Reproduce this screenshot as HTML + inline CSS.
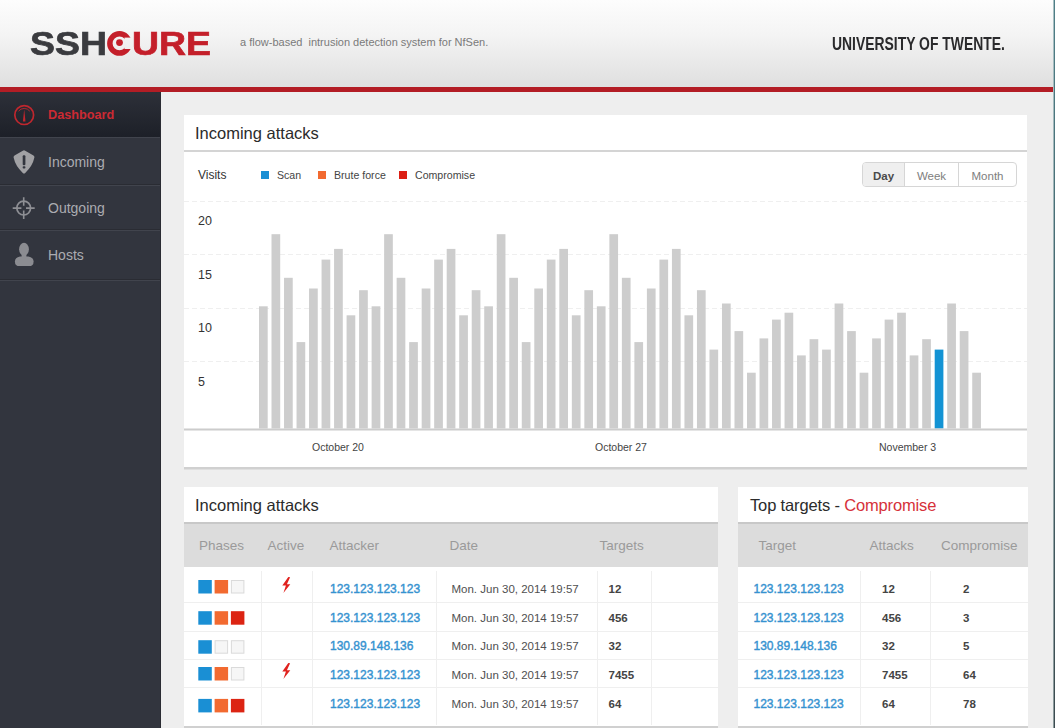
<!DOCTYPE html>
<html><head><meta charset="utf-8"><title>SSHCure Dashboard</title>
<style>
*{box-sizing:border-box}
html,body{margin:0;padding:0}
body{width:1055px;height:728px;overflow:hidden;position:relative;background:#eeeeee;font-family:'Liberation Sans', Arial, sans-serif;color:#333}
.abs{position:absolute}
#hdr{left:0;top:0;width:1055px;height:87px;background:linear-gradient(#fdfdfd 0%,#f4f4f4 40%,#dfdfdf 100%)}
#red{left:0;top:87px;width:1055px;height:5px;background:#b31d25}
#edge{left:1053px;top:0;width:1px;height:728px;background:linear-gradient(#a9c0c4,#8c9a9c)}
#edge2{left:1054px;top:0;width:1px;height:728px;background:linear-gradient(#4f7f87,#3c4b4f)}
.logo{font-size:34px;font-weight:bold;line-height:34px;white-space:nowrap;transform-origin:0 0;transform:scaleX(1.1);-webkit-text-stroke:0.7px currentColor}
.logo.d{color:#3a3b3f}.logo.r{color:#c41f2a}
.tag{left:240px;top:36px;font-size:11px;color:#7a7a7a;white-space:nowrap;line-height:12px}
.ut{left:832px;top:34px;font-size:17.5px;font-weight:bold;color:#2a2a2c;white-space:nowrap;line-height:20px;transform-origin:0 0;transform:scaleX(0.795)}
#side{left:0;top:92px;width:161px;height:636px;background:#32353e}
.nlbl{font-size:14px;line-height:20px;color:#abacb1;white-space:nowrap}
.nlbl.act{color:#cc2a33;font-weight:bold;font-size:12.7px}
.panel{position:absolute;background:#fff}
.ptitle{position:absolute;left:11px;font-size:16.5px;color:#2b2b2b;white-space:nowrap}
</style></head>
<body>
<div id="hdr" class="abs">
  <div class="abs logo d" style="left:30px;top:26px">SSH</div>
  <div class="abs logo r" style="left:132px;top:26px">URE</div>
  <svg class="abs" style="left:105px;top:29px" width="28" height="28" viewBox="0 0 28 28">
    <defs><mask id="cm" maskUnits="userSpaceOnUse" x="0" y="0" width="28" height="28"><rect width="28" height="28" fill="#fff"/><rect x="19.5" y="8.6" width="9" height="11.4" fill="#000"/></mask></defs>
    <circle cx="14.5" cy="14.4" r="9.65" fill="none" stroke="#c41f2a" stroke-width="5.5" mask="url(#cm)"/>
    <circle cx="14.5" cy="13.6" r="3.4" fill="#c41f2a"/>
  </svg>
  <div class="abs tag">a flow-based&nbsp; intrusion detection system for NfSen.</div>
  <div class="abs ut">UNIVERSITY OF TWENTE.</div>
</div>
<div id="red" class="abs"></div>

<div id="side" class="abs"></div>
<div class="abs" style="left:0;top:92px;width:161px;height:45px;background:linear-gradient(#2d3039,#1d2028)"></div>
<div class="abs" style="left:0;top:137px;width:161px;height:1px;background:#41444d"></div>
<div class="abs" style="left:0;top:184px;width:161px;height:1px;background:#2a2c33"></div>
<div class="abs" style="left:0;top:185px;width:161px;height:1px;background:#41444d"></div>
<div class="abs" style="left:0;top:229px;width:161px;height:1px;background:#2a2c33"></div>
<div class="abs" style="left:0;top:230px;width:161px;height:1px;background:#41444d"></div>
<div class="abs" style="left:0;top:279px;width:161px;height:1px;background:#2a2c33"></div>
<div class="abs" style="left:0;top:280px;width:161px;height:1px;background:#41444d"></div>
<div class="abs" style="left:160px;top:92px;width:1px;height:636px;background:#2a2b32"></div>
<svg class="abs" style="left:0;top:0" width="48" height="300" viewBox="0 0 48 300">
  <circle cx="24.2" cy="115.1" r="9.4" fill="none" stroke="#c0272e" stroke-width="1.7"/>
  <path d="M18.6 111.2 A7 7 0 0 1 29.8 111.2" fill="none" stroke="#c0272e" stroke-width="0.9"/>
  <path d="M24.2 109.2 L25.5 121.5 L22.9 121.5 Z" fill="#c0272e"/>
  <path d="M24 150.3 Q24.6 150.3 25.2 150.7 L33.5 155.4 Q34.7 156.2 34.4 157.6 Q32.6 166.2 25.2 172.9 Q24 174 22.8 172.9 Q15.4 166.2 13.6 157.6 Q13.3 156.2 14.5 155.4 L22.8 150.7 Q23.4 150.3 24 150.3 Z" fill="#a1a1a4"/>
  <rect x="22.7" y="155.2" width="2.7" height="10.1" rx="1" fill="#32353e"/>
  <rect x="22.7" y="166.3" width="2.7" height="2.2" rx="0.8" fill="#32353e"/>
  <circle cx="23.7" cy="208.1" r="6.9" fill="none" stroke="#8e8f94" stroke-width="1.7"/>
  <path d="M12.7 208.1 H21.4 M26.0 208.1 H34.7 M23.7 197.3 V205.8 M23.7 210.4 V219.1" stroke="#8e8f94" stroke-width="1.6"/>
  <ellipse cx="24" cy="249.2" rx="4.9" ry="6.4" fill="#8b8c91"/>
  <rect x="21.6" y="253" width="4.8" height="5" fill="#8b8c91"/>
  <path d="M20 256.4 Q14.9 257.3 14.9 261.4 Q14.9 266.1 19.5 266.1 L29 266.1 Q33.6 266.1 33.6 261.4 Q33.6 257.3 28.4 256.4 Z" fill="#8b8c91"/>
</svg>
<div class="abs nlbl act" style="left:48px;top:105px">Dashboard</div>
<div class="abs nlbl" style="left:48px;top:152px">Incoming</div>
<div class="abs nlbl" style="left:48px;top:198px">Outgoing</div>
<div class="abs nlbl" style="left:48px;top:245px">Hosts</div>

<!-- chart panel -->
<div class="panel" style="left:184px;top:115px;width:843px;height:353px">
  <div class="ptitle" style="top:6px;line-height:24px">Incoming attacks</div>
</div>
<svg class="abs" style="left:0;top:0" width="1055" height="728" viewBox="0 0 1055 728">
  <rect x="184" y="150" width="843" height="2" fill="#d4d4d4"/>
  <g stroke="#efefef" stroke-width="1" stroke-dasharray="5 3">
    <line x1="184" y1="201.5" x2="1027" y2="201.5"/>
    <line x1="184" y1="254.5" x2="1027" y2="254.5"/>
    <line x1="184" y1="308.5" x2="1027" y2="308.5"/>
    <line x1="184" y1="361.5" x2="1027" y2="361.5"/>
  </g>
<rect x="259.00" y="306.3" width="8.7" height="122.2" fill="#cdcdcd"/>
<rect x="271.51" y="234.2" width="8.7" height="194.3" fill="#cdcdcd"/>
<rect x="284.03" y="277.8" width="8.7" height="150.7" fill="#cdcdcd"/>
<rect x="296.54" y="342.1" width="8.7" height="86.4" fill="#cdcdcd"/>
<rect x="309.05" y="288.5" width="8.7" height="140.0" fill="#cdcdcd"/>
<rect x="321.56" y="259.6" width="8.7" height="168.9" fill="#cdcdcd"/>
<rect x="334.08" y="248.9" width="8.7" height="179.6" fill="#cdcdcd"/>
<rect x="346.59" y="315.3" width="8.7" height="113.2" fill="#cdcdcd"/>
<rect x="359.10" y="290.2" width="8.7" height="138.3" fill="#cdcdcd"/>
<rect x="371.62" y="306.3" width="8.7" height="122.2" fill="#cdcdcd"/>
<rect x="384.13" y="234.2" width="8.7" height="194.3" fill="#cdcdcd"/>
<rect x="396.64" y="277.8" width="8.7" height="150.7" fill="#cdcdcd"/>
<rect x="409.16" y="342.1" width="8.7" height="86.4" fill="#cdcdcd"/>
<rect x="421.67" y="288.5" width="8.7" height="140.0" fill="#cdcdcd"/>
<rect x="434.18" y="259.6" width="8.7" height="168.9" fill="#cdcdcd"/>
<rect x="446.69" y="248.9" width="8.7" height="179.6" fill="#cdcdcd"/>
<rect x="459.21" y="315.3" width="8.7" height="113.2" fill="#cdcdcd"/>
<rect x="471.72" y="290.2" width="8.7" height="138.3" fill="#cdcdcd"/>
<rect x="484.23" y="306.3" width="8.7" height="122.2" fill="#cdcdcd"/>
<rect x="496.75" y="234.2" width="8.7" height="194.3" fill="#cdcdcd"/>
<rect x="509.26" y="277.8" width="8.7" height="150.7" fill="#cdcdcd"/>
<rect x="521.77" y="342.1" width="8.7" height="86.4" fill="#cdcdcd"/>
<rect x="534.29" y="288.5" width="8.7" height="140.0" fill="#cdcdcd"/>
<rect x="546.80" y="259.6" width="8.7" height="168.9" fill="#cdcdcd"/>
<rect x="559.31" y="248.9" width="8.7" height="179.6" fill="#cdcdcd"/>
<rect x="571.83" y="315.3" width="8.7" height="113.2" fill="#cdcdcd"/>
<rect x="584.34" y="290.2" width="8.7" height="138.3" fill="#cdcdcd"/>
<rect x="596.85" y="306.3" width="8.7" height="122.2" fill="#cdcdcd"/>
<rect x="609.36" y="234.2" width="8.7" height="194.3" fill="#cdcdcd"/>
<rect x="621.88" y="277.8" width="8.7" height="150.7" fill="#cdcdcd"/>
<rect x="634.39" y="342.1" width="8.7" height="86.4" fill="#cdcdcd"/>
<rect x="646.90" y="288.5" width="8.7" height="140.0" fill="#cdcdcd"/>
<rect x="659.42" y="259.6" width="8.7" height="168.9" fill="#cdcdcd"/>
<rect x="671.93" y="248.9" width="8.7" height="179.6" fill="#cdcdcd"/>
<rect x="684.44" y="315.3" width="8.7" height="113.2" fill="#cdcdcd"/>
<rect x="696.95" y="290.2" width="8.7" height="138.3" fill="#cdcdcd"/>
<rect x="709.47" y="349.6" width="8.7" height="78.9" fill="#cdcdcd"/>
<rect x="721.98" y="303.5" width="8.7" height="125.0" fill="#cdcdcd"/>
<rect x="734.49" y="331.1" width="8.7" height="97.4" fill="#cdcdcd"/>
<rect x="747.01" y="372.7" width="8.7" height="55.8" fill="#cdcdcd"/>
<rect x="759.52" y="338.4" width="8.7" height="90.1" fill="#cdcdcd"/>
<rect x="772.03" y="319.6" width="8.7" height="108.9" fill="#cdcdcd"/>
<rect x="784.55" y="312.7" width="8.7" height="115.8" fill="#cdcdcd"/>
<rect x="797.06" y="355.4" width="8.7" height="73.1" fill="#cdcdcd"/>
<rect x="809.57" y="339.2" width="8.7" height="89.3" fill="#cdcdcd"/>
<rect x="822.09" y="349.6" width="8.7" height="78.9" fill="#cdcdcd"/>
<rect x="834.60" y="303.5" width="8.7" height="125.0" fill="#cdcdcd"/>
<rect x="847.11" y="331.1" width="8.7" height="97.4" fill="#cdcdcd"/>
<rect x="859.62" y="372.7" width="8.7" height="55.8" fill="#cdcdcd"/>
<rect x="872.14" y="338.4" width="8.7" height="90.1" fill="#cdcdcd"/>
<rect x="884.65" y="319.6" width="8.7" height="108.9" fill="#cdcdcd"/>
<rect x="897.16" y="312.7" width="8.7" height="115.8" fill="#cdcdcd"/>
<rect x="909.68" y="355.4" width="8.7" height="73.1" fill="#cdcdcd"/>
<rect x="922.19" y="339.2" width="8.7" height="89.3" fill="#cdcdcd"/>
<rect x="934.70" y="349.6" width="8.7" height="78.9" fill="#1393d4"/>
<rect x="947.22" y="303.5" width="8.7" height="125.0" fill="#cdcdcd"/>
<rect x="959.73" y="331.1" width="8.7" height="97.4" fill="#cdcdcd"/>
<rect x="972.24" y="372.7" width="8.7" height="55.8" fill="#cdcdcd"/>
  <rect x="184" y="428.5" width="843" height="2" fill="#cccccc"/>
  <rect x="184" y="467" width="843" height="2.5" fill="#d0d0d0"/>
</svg>
<div class="abs" style="left:198px;top:168px;font-size:12px;color:#333;line-height:14px">Visits</div>
<div class="abs" style="left:261px;top:171px;width:8px;height:8px;background:#1a8fd4"></div>
<div class="abs" style="left:277px;top:169px;font-size:10.6px;color:#444;line-height:12px">Scan</div>
<div class="abs" style="left:318px;top:171px;width:8px;height:8px;background:#f26a30"></div>
<div class="abs" style="left:334px;top:169px;font-size:10.6px;color:#444;line-height:12px">Brute force</div>
<div class="abs" style="left:399px;top:171px;width:8px;height:8px;background:#dc1f14"></div>
<div class="abs" style="left:415px;top:169px;font-size:10.6px;color:#444;line-height:12px">Compromise</div>

<div class="abs" style="left:862px;top:162px;width:155px;height:25px;border:1px solid #d6d6d6;border-radius:4px;overflow:hidden;font-size:11.5px;line-height:26px;text-align:center">
  <div class="abs" style="left:0;top:0;width:42px;height:23px;background:#efefef;border-right:1px solid #d6d6d6;color:#4a4a4a;font-weight:bold">Day</div>
  <div class="abs" style="left:42px;top:0;width:54px;height:23px;border-right:1px solid #d6d6d6;color:#7e7e7e">Week</div>
  <div class="abs" style="left:96px;top:0;width:57px;height:23px;color:#7e7e7e">Month</div>
</div>

<div class="abs" style="left:198px;top:214px;font-size:12.5px;color:#333;line-height:14px">20</div>
<div class="abs" style="left:198px;top:268px;font-size:12.5px;color:#333;line-height:14px">15</div>
<div class="abs" style="left:198px;top:321px;font-size:12.5px;color:#333;line-height:14px">10</div>
<div class="abs" style="left:198px;top:375px;font-size:12.5px;color:#333;line-height:14px">5</div>

<div class="abs" style="left:312px;top:441px;font-size:10.5px;color:#444;line-height:13px">October 20</div>
<div class="abs" style="left:595px;top:441px;font-size:10.5px;color:#444;line-height:13px">October 27</div>
<div class="abs" style="left:879px;top:441px;font-size:10.5px;color:#444;line-height:13px">November 3</div>

<div class="panel" style="left:184px;top:487px;width:534px;height:241px"></div>
<div class="panel" style="left:738px;top:487px;width:290px;height:241px"></div>
<div class="abs ptitle" style="left:195px;top:493px;line-height:24px">Incoming attacks</div>
<div class="abs ptitle" style="left:750px;top:493px;line-height:24px;letter-spacing:-0.15px">Top targets - <span style="color:#d6313a">Compromise</span></div>
<div class="abs" style="left:184px;top:522px;width:534px;height:44.5px;background:#dcdcdc;border-top:2px solid #c8c8c8"></div>
<div class="abs" style="left:738px;top:522px;width:290px;height:44.5px;background:#dcdcdc;border-top:2px solid #c8c8c8"></div>
<div class="abs" style="left:199px;top:537.5px;line-height:16px;font-size:13.5px;color:#9a9a9a;font-weight:normal;white-space:nowrap">Phases</div>
<div class="abs" style="left:267.5px;top:537.5px;line-height:16px;font-size:13.5px;color:#9a9a9a;font-weight:normal;white-space:nowrap">Active</div>
<div class="abs" style="left:329.5px;top:537.5px;line-height:16px;font-size:13.5px;color:#9a9a9a;font-weight:normal;white-space:nowrap">Attacker</div>
<div class="abs" style="left:449.5px;top:537.5px;line-height:16px;font-size:13.5px;color:#9a9a9a;font-weight:normal;white-space:nowrap">Date</div>
<div class="abs" style="left:599.5px;top:537.5px;line-height:16px;font-size:13.5px;color:#9a9a9a;font-weight:normal;white-space:nowrap">Targets</div>
<div class="abs" style="left:758.5px;top:537.5px;line-height:16px;font-size:13.5px;color:#9a9a9a;font-weight:normal;white-space:nowrap">Target</div>
<div class="abs" style="left:869.5px;top:537.5px;line-height:16px;font-size:13.5px;color:#9a9a9a;font-weight:normal;white-space:nowrap">Attacks</div>
<div class="abs" style="left:941px;top:537.5px;line-height:16px;font-size:13.5px;color:#9a9a9a;font-weight:normal;white-space:nowrap">Compromise</div>
<svg class="abs" style="left:0;top:0" width="1055" height="728" viewBox="0 0 1055 728">
<line x1="184" y1="602.5" x2="718" y2="602.5" stroke="#efefef" stroke-width="1"/>
<line x1="738" y1="602.5" x2="1028" y2="602.5" stroke="#efefef" stroke-width="1"/>
<line x1="184" y1="631.5" x2="718" y2="631.5" stroke="#efefef" stroke-width="1"/>
<line x1="738" y1="631.5" x2="1028" y2="631.5" stroke="#efefef" stroke-width="1"/>
<line x1="184" y1="659.5" x2="718" y2="659.5" stroke="#efefef" stroke-width="1"/>
<line x1="738" y1="659.5" x2="1028" y2="659.5" stroke="#efefef" stroke-width="1"/>
<line x1="184" y1="687.5" x2="718" y2="687.5" stroke="#efefef" stroke-width="1"/>
<line x1="738" y1="687.5" x2="1028" y2="687.5" stroke="#efefef" stroke-width="1"/>
<line x1="261.5" y1="571" x2="261.5" y2="725" stroke="#efefef" stroke-width="1"/>
<line x1="312.5" y1="571" x2="312.5" y2="725" stroke="#efefef" stroke-width="1"/>
<line x1="436.5" y1="571" x2="436.5" y2="725" stroke="#efefef" stroke-width="1"/>
<line x1="597.5" y1="571" x2="597.5" y2="725" stroke="#efefef" stroke-width="1"/>
<line x1="651.5" y1="571" x2="651.5" y2="725" stroke="#efefef" stroke-width="1"/>
<line x1="860.5" y1="571" x2="860.5" y2="725" stroke="#efefef" stroke-width="1"/>
<line x1="930.5" y1="571" x2="930.5" y2="725" stroke="#efefef" stroke-width="1"/>
<rect x="184" y="726" width="534" height="2" fill="#d0d0d0"/>
<rect x="738" y="726" width="290" height="2" fill="#d0d0d0"/>
<path transform="translate(0,0.0)" d="M288.3 576.9 L282.3 585.6 L285.9 585.6 L283.4 592.9 L290.3 584.3 L286.9 584.3 L290.1 577.3 Z" fill="#e0221e"/>
<path transform="translate(0,86.0)" d="M288.3 576.9 L282.3 585.6 L285.9 585.6 L283.4 592.9 L290.3 584.3 L286.9 584.3 L290.1 577.3 Z" fill="#e0221e"/>
<rect x="198.3" y="580.0" width="13.5" height="13.5" fill="#1a8fd4"/>
<rect x="214.6" y="580.0" width="13.5" height="13.5" fill="#f26a30"/>
<rect x="231.4" y="580.5" width="12.5" height="12.5" fill="#f6f6f6" stroke="#dadada" stroke-width="1"/>
<rect x="198.3" y="611.2" width="13.5" height="13.5" fill="#1a8fd4"/>
<rect x="214.6" y="611.2" width="13.5" height="13.5" fill="#f26a30"/>
<rect x="230.9" y="611.2" width="13.5" height="13.5" fill="#dc2413"/>
<rect x="198.3" y="640.2" width="13.5" height="13.5" fill="#1a8fd4"/>
<rect x="215.1" y="640.7" width="12.5" height="12.5" fill="#f6f6f6" stroke="#dadada" stroke-width="1"/>
<rect x="231.4" y="640.7" width="12.5" height="12.5" fill="#f6f6f6" stroke="#dadada" stroke-width="1"/>
<rect x="198.3" y="667.0" width="13.5" height="13.5" fill="#1a8fd4"/>
<rect x="214.6" y="667.0" width="13.5" height="13.5" fill="#f26a30"/>
<rect x="231.4" y="667.5" width="12.5" height="12.5" fill="#f6f6f6" stroke="#dadada" stroke-width="1"/>
<rect x="198.3" y="698.9" width="13.5" height="13.5" fill="#1a8fd4"/>
<rect x="214.6" y="698.9" width="13.5" height="13.5" fill="#f26a30"/>
<rect x="230.9" y="698.9" width="13.5" height="13.5" fill="#dc2413"/>
</svg>
<div class="abs" style="left:330px;top:581.0px;line-height:16px;font-size:12px;color:#3592d0;font-weight:normal;white-space:nowrap;-webkit-text-stroke:0.4px #3592d0">123.123.123.123</div>
<div class="abs" style="left:451.5px;top:581.0px;line-height:16px;font-size:11.5px;color:#505050;font-weight:normal;white-space:nowrap">Mon. Jun 30, 2014 19:57</div>
<div class="abs" style="left:608.5px;top:581.0px;line-height:16px;font-size:11.5px;color:#444;font-weight:bold;white-space:nowrap">12</div>
<div class="abs" style="left:753.5px;top:581.0px;line-height:16px;font-size:12px;color:#3592d0;font-weight:normal;white-space:nowrap;-webkit-text-stroke:0.4px #3592d0">123.123.123.123</div>
<div class="abs" style="left:882px;top:581.0px;line-height:16px;font-size:11.5px;color:#444;font-weight:bold;white-space:nowrap">12</div>
<div class="abs" style="left:963px;top:581.0px;line-height:16px;font-size:11.5px;color:#444;font-weight:bold;white-space:nowrap">2</div>
<div class="abs" style="left:330px;top:609.7px;line-height:16px;font-size:12px;color:#3592d0;font-weight:normal;white-space:nowrap;-webkit-text-stroke:0.4px #3592d0">123.123.123.123</div>
<div class="abs" style="left:451.5px;top:609.7px;line-height:16px;font-size:11.5px;color:#505050;font-weight:normal;white-space:nowrap">Mon. Jun 30, 2014 19:57</div>
<div class="abs" style="left:608.5px;top:609.7px;line-height:16px;font-size:11.5px;color:#444;font-weight:bold;white-space:nowrap">456</div>
<div class="abs" style="left:753.5px;top:609.7px;line-height:16px;font-size:12px;color:#3592d0;font-weight:normal;white-space:nowrap;-webkit-text-stroke:0.4px #3592d0">123.123.123.123</div>
<div class="abs" style="left:882px;top:609.7px;line-height:16px;font-size:11.5px;color:#444;font-weight:bold;white-space:nowrap">456</div>
<div class="abs" style="left:963px;top:609.7px;line-height:16px;font-size:11.5px;color:#444;font-weight:bold;white-space:nowrap">3</div>
<div class="abs" style="left:330px;top:638.4px;line-height:16px;font-size:12px;color:#3592d0;font-weight:normal;white-space:nowrap;-webkit-text-stroke:0.4px #3592d0">130.89.148.136</div>
<div class="abs" style="left:451.5px;top:638.4px;line-height:16px;font-size:11.5px;color:#505050;font-weight:normal;white-space:nowrap">Mon. Jun 30, 2014 19:57</div>
<div class="abs" style="left:608.5px;top:638.4px;line-height:16px;font-size:11.5px;color:#444;font-weight:bold;white-space:nowrap">32</div>
<div class="abs" style="left:753.5px;top:638.4px;line-height:16px;font-size:12px;color:#3592d0;font-weight:normal;white-space:nowrap;-webkit-text-stroke:0.4px #3592d0">130.89.148.136</div>
<div class="abs" style="left:882px;top:638.4px;line-height:16px;font-size:11.5px;color:#444;font-weight:bold;white-space:nowrap">32</div>
<div class="abs" style="left:963px;top:638.4px;line-height:16px;font-size:11.5px;color:#444;font-weight:bold;white-space:nowrap">5</div>
<div class="abs" style="left:330px;top:667.0px;line-height:16px;font-size:12px;color:#3592d0;font-weight:normal;white-space:nowrap;-webkit-text-stroke:0.4px #3592d0">123.123.123.123</div>
<div class="abs" style="left:451.5px;top:667.0px;line-height:16px;font-size:11.5px;color:#505050;font-weight:normal;white-space:nowrap">Mon. Jun 30, 2014 19:57</div>
<div class="abs" style="left:608.5px;top:667.0px;line-height:16px;font-size:11.5px;color:#444;font-weight:bold;white-space:nowrap">7455</div>
<div class="abs" style="left:753.5px;top:667.0px;line-height:16px;font-size:12px;color:#3592d0;font-weight:normal;white-space:nowrap;-webkit-text-stroke:0.4px #3592d0">123.123.123.123</div>
<div class="abs" style="left:882px;top:667.0px;line-height:16px;font-size:11.5px;color:#444;font-weight:bold;white-space:nowrap">7455</div>
<div class="abs" style="left:963px;top:667.0px;line-height:16px;font-size:11.5px;color:#444;font-weight:bold;white-space:nowrap">64</div>
<div class="abs" style="left:330px;top:695.7px;line-height:16px;font-size:12px;color:#3592d0;font-weight:normal;white-space:nowrap;-webkit-text-stroke:0.4px #3592d0">123.123.123.123</div>
<div class="abs" style="left:451.5px;top:695.7px;line-height:16px;font-size:11.5px;color:#505050;font-weight:normal;white-space:nowrap">Mon. Jun 30, 2014 19:57</div>
<div class="abs" style="left:608.5px;top:695.7px;line-height:16px;font-size:11.5px;color:#444;font-weight:bold;white-space:nowrap">64</div>
<div class="abs" style="left:753.5px;top:695.7px;line-height:16px;font-size:12px;color:#3592d0;font-weight:normal;white-space:nowrap;-webkit-text-stroke:0.4px #3592d0">123.123.123.123</div>
<div class="abs" style="left:882px;top:695.7px;line-height:16px;font-size:11.5px;color:#444;font-weight:bold;white-space:nowrap">64</div>
<div class="abs" style="left:963px;top:695.7px;line-height:16px;font-size:11.5px;color:#444;font-weight:bold;white-space:nowrap">78</div>
<div id="edge" class="abs"></div><div id="edge2" class="abs"></div>
</body></html>
